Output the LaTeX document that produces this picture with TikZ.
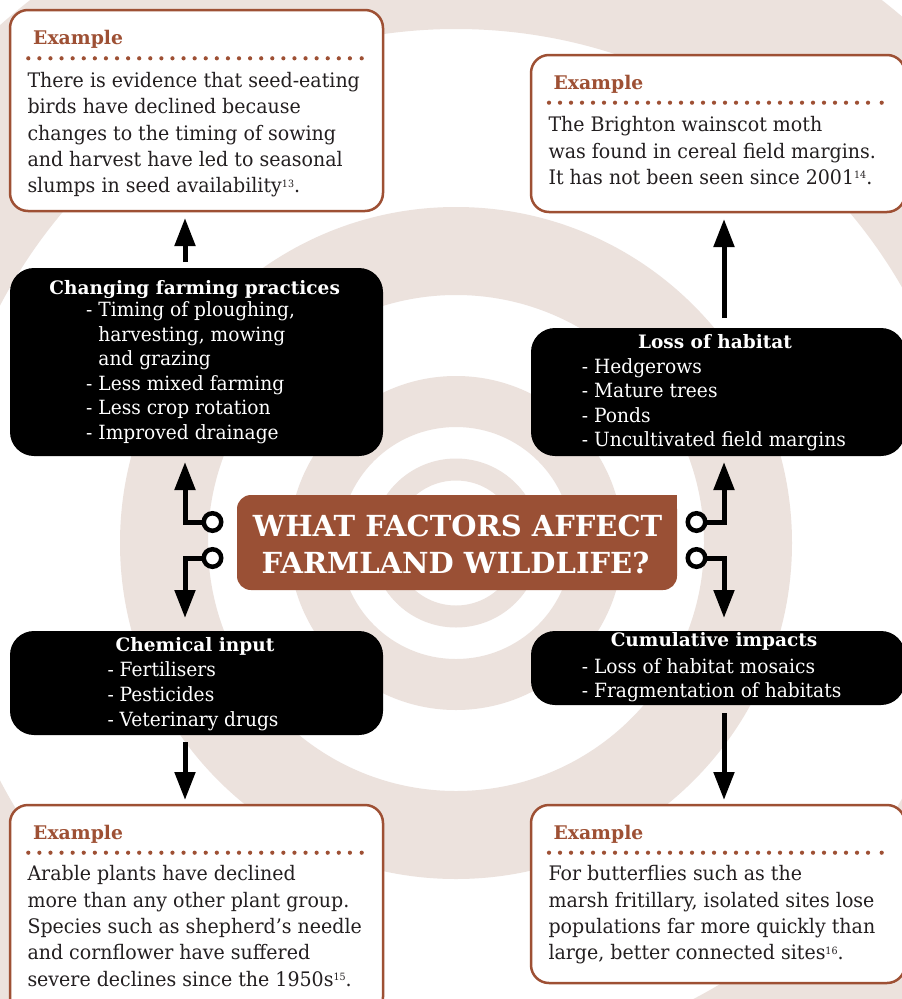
\documentclass[tikz,border=0pt]{standalone}
\usepackage{fontspec}
\setmainfont{DejaVu Serif}
\newfontfamily\bodyfont[FakeStretch=0.95]{DejaVu Serif}
\newfontfamily\titlefont{DejaVu Serif}
\usetikzlibrary{arrows.meta}
\definecolor{rust}{RGB}{158,80,52}
\definecolor{ctrfill}{RGB}{154,80,53}
\definecolor{ringc}{RGB}{236,226,221}
\definecolor{ink}{RGB}{35,31,32}
\newcommand\supnum[1]{\raisebox{5.8pt}{\fontsize{10}{10}\selectfont #1}}
\begin{document}
\begin{tikzpicture}[x=1pt,y=-1pt,
  exbox/.style={draw=rust, line width=2.5pt, fill=white, rounded corners=18pt, inner sep=0pt, outer sep=0pt, anchor=north west},
  blkbox/.style={fill=black, rounded corners=24pt, inner sep=0pt, outer sep=0pt, anchor=north west},
  ctrbox/.style={fill=ctrfill, rounded corners=14pt, inner sep=0pt, outer sep=0pt, anchor=north west},
  exhead/.style={anchor=base west, inner sep=0pt, text=rust, font=\titlefont\bfseries\fontsize{18.8}{22}\selectfont},
  extext/.style={anchor=base west, inner sep=0pt, text=ink, font=\bodyfont\fontsize{20}{26.4}\selectfont},
  bkhead/.style={anchor=base, inner sep=0pt, text=white, font=\titlefont\bfseries\fontsize{18.5}{22}\selectfont},
  bkitem/.style={anchor=base west, inner sep=0pt, text=white, font=\bodyfont\fontsize{19.6}{24.5}\selectfont},
  ctrtext/.style={anchor=base, inner sep=0pt, text=white, font=\titlefont\bfseries\fontsize{29}{32}\selectfont},
  knob/.style={circle, draw=black, line width=4.5pt, fill=white, minimum size=17.5pt, inner sep=0pt, outer sep=0pt},
  conn/.style={line width=5pt, -{Triangle[width=20pt,length=28pt]}},
  dotc/.style={fill=rust}
]
\useasboundingbox (0,0) rectangle (902,999);
% background rings
\begin{scope}
\clip (0,0) rectangle (902,999);
\fill[white] (0,0) rectangle (902,999);
\fill[ringc, even odd rule] (456,543) circle[radius=690] circle[radius=514];
\fill[ringc, even odd rule] (456,543) circle[radius=336] circle[radius=248];
\fill[ringc, even odd rule] (456,543) circle[radius=167] circle[radius=116];
\fill[ringc, even odd rule] (456,543) circle[radius=84.5] circle[radius=62.5];
\end{scope}

% boxes
\node[exbox, minimum width=373pt, minimum height=201pt] (ex1) at (10,10) {};
\node[exbox, minimum width=374pt, minimum height=157pt] (ex2) at (531,55) {};
\node[blkbox, minimum width=373pt, minimum height=188pt] (cfp) at (10,268) {};
\node[blkbox, minimum width=374pt, minimum height=128pt] (loh) at (531,328) {};
\node[ctrbox, minimum width=440pt, minimum height=95pt] (ctr) at (237,495) {};
\fill[ctrfill] (ctr.north east) rectangle ++(-16,16);
\node[blkbox, minimum width=373pt, minimum height=104pt] (chem) at (10,631) {};
\node[blkbox, minimum width=374pt, minimum height=74pt] (cum) at (531,631) {};
\node[exbox, minimum width=373pt, minimum height=210pt] (ex3) at (10,805) {};
\node[exbox, minimum width=374pt, minimum height=178pt] (ex4) at (531,805) {};

% knobs
\node[knob] (k1) at (212.5,522) {};
\node[knob] (k2) at (212.5,558) {};
\node[knob] (k3) at (696.5,522) {};
\node[knob] (k4) at (696.5,558) {};

% connectors
\draw[conn, shorten >=6pt] (k1.west) -| ([xshift=-11.5pt]cfp.south);
\draw[conn, shorten >=13pt] (k2.west) -| ([xshift=-11.5pt]chem.north);
\draw[conn, shorten >=6pt] (k3.east) -| ([xshift=6pt]loh.south);
\draw[conn, shorten >=13pt] (k4.east) -| ([xshift=6pt]cum.north);
\draw[conn, shorten <=6pt, shorten >=7pt] ([xshift=-11.5pt]cfp.north) -- ([xshift=-11.5pt]ex1.south);
\draw[conn, shorten <=10pt, shorten >=7pt] ([xshift=6pt]loh.north) -- ([xshift=6pt]ex2.south);
\draw[conn, shorten <=7pt, shorten >=5pt] ([xshift=-11.5pt]chem.south) -- ([xshift=-11.5pt]ex3.north);
\draw[conn, shorten <=8pt, shorten >=5pt] ([xshift=6pt]cum.south) -- ([xshift=6pt]ex4.north);

% centre title
\node[ctrtext] (t1) at (457.5,536.5) {WHAT FACTORS AFFECT};
\node[ctrtext] (t2) at (455.5,573) {FARMLAND WILDLIFE?};

% example 1
\node[exhead] (ex1h) at (33,44.3) {Example};
\foreach \i in {0,...,29} {\fill[dotc] (28.3+11.09*\i,58.3) circle[radius=2.1];}
\fill[dotc] (361.7,58.3) circle[radius=2.1];
\node[extext] (ex1t) at (27.3,87.3) {\parbox[t]{360pt}{There is evidence that seed-eating\\birds have declined because\\changes to the timing of sowing\\and harvest have led to seasonal\\slumps in seed availability\supnum{13}.}};

% example 2
\node[exhead] (ex2h) at (553.3,89) {Example};
\foreach \i in {0,...,29} {\fill[dotc] (549+11.0*\i,102.7) circle[radius=2.1];}
\fill[dotc] (881.7,102.7) circle[radius=2.1];
\node[extext] (ex2t) at (548.3,131.7) {\parbox[t]{350pt}{The Brighton wainscot moth\\was found in cereal field margins.\\It has not been seen since 2001\supnum{14}.}};

% changing farming practices
\node[bkhead] (cfph) at (194.7,294.3) {Changing farming practices};
\node[bkitem] (cfpt) at (86,316.7) {\parbox[t]{290pt}{- Timing of ploughing,\\\phantom{- }harvesting, mowing\\\phantom{- }and grazing\\- Less mixed farming\\- Less crop rotation\\- Improved drainage}};

% loss of habitat
\node[bkhead] (lohh) at (715,348.3) {Loss of habitat};
\node[bkitem] (loht) at (581.7,373.3) {\parbox[t]{300pt}{- Hedgerows\\- Mature trees\\- Ponds\\- Uncultivated field margins}};

% chemical input
\node[bkhead] (chemh) at (195,651.7) {Chemical input};
\node[bkitem] (chemt) at (107.3,676.7) {\parbox[t]{260pt}{- Fertilisers\\- Pesticides\\[0.8pt]- Veterinary drugs}};

% cumulative impacts
\node[bkhead] (cumh) at (714,646.7) {Cumulative impacts};
\node[bkitem] (cumt) at (581.7,673) {\parbox[t]{300pt}{- Loss of habitat mosaics\\- Fragmentation of habitats}};

% example 3
\node[exhead] (ex3h) at (33,839) {Example};
\foreach \i in {0,...,29} {\fill[dotc] (28.3+11.09*\i,852.7) circle[radius=2.1];}
\fill[dotc] (361.7,852.7) circle[radius=2.1];
\node[extext] (ex3t) at (27.3,880.7) {\parbox[t]{360pt}{Arable plants have declined\\more than any other plant group.\\Species such as shepherd’s needle\\and cornflower have suffered\\severe declines since the 1950s\supnum{15}.}};

% example 4
\node[exhead] (ex4h) at (553.3,839) {Example};
\foreach \i in {0,...,29} {\fill[dotc] (549+11.0*\i,852.7) circle[radius=2.1];}
\fill[dotc] (881.7,852.7) circle[radius=2.1];
\node[extext] (ex4t) at (548.3,880.7) {\parbox[t]{350pt}{For butterflies such as the\\marsh fritillary, isolated sites lose\\populations far more quickly than\\large, better connected sites\supnum{16}.}};
\end{tikzpicture}
\end{document}
